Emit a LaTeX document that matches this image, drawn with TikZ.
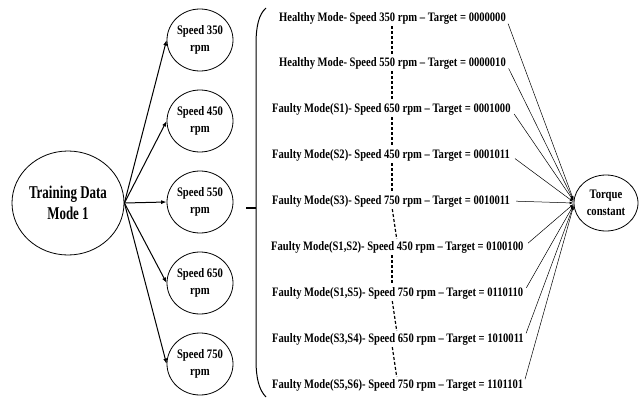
\documentclass[tikz,border=0pt]{standalone}
\usepackage{fontspec}
\setmainfont{Liberation Serif}
\newfontfamily\condfont[FakeStretch=0.82]{Liberation Serif}
\newfontfamily\narrowfont[FakeStretch=0.72]{Liberation Serif}
\usetikzlibrary{arrows.meta,shapes.geometric}
\begin{document}
\begin{tikzpicture}[x=1pt,y=-1pt,
  oval/.style={draw, ellipse, line width=0.8pt, inner sep=0pt, align=center,
    font=\condfont\bfseries\fontsize{13}{17}\selectfont},
  bigoval/.style={oval, font=\narrowfont\bfseries\fontsize{18}{21}\selectfont},
  txt/.style={anchor=west, inner sep=0pt, font=\condfont\bfseries\fontsize{12.9}{14}\selectfont},
  feed/.style={line width=1pt, -{Latex[length=5.5pt,width=4pt]}},
  conv/.style={line width=0.5pt, shorten <=6pt, -{Latex[length=4pt,width=2.5pt]}},
  dashline/.style={line width=1.2pt, dash pattern=on 3pt off 2pt, shorten <=2pt, shorten >=2pt}
]
\useasboundingbox (0,0) rectangle (640,399);
% left part
\node[bigoval, minimum width=112pt, minimum height=104pt] (tr) at (68,203) {Training Data\\Mode 1};
\node[oval, minimum width=66pt, minimum height=62pt] (s1) at (200,40) {Speed 350\\rpm};
\node[oval, minimum width=66pt, minimum height=62pt] (s2) at (200,121) {Speed 450\\rpm};
\node[oval, minimum width=66pt, minimum height=62pt] (s3) at (200,202) {Speed 550\\rpm};
\node[oval, minimum width=66pt, minimum height=62pt] (s4) at (200,283) {Speed 650\\rpm};
\node[oval, minimum width=66pt, minimum height=62pt] (s5) at (200,364) {Speed 750\\rpm};
\foreach \s in {s1,s2,s3,s4,s5} \draw[feed] (tr.east) -- (\s.west);
% bracket
\draw[line width=1pt] (266,8) .. controls (259,14) and (256,26) .. (256,44) -- (256,360)
  .. controls (256,378) and (259,390) .. (266,397);
\draw[line width=1.6pt] (246,208) -- (256,208);
% texts
\node[txt] (t1) at (279,18) {Healthy Mode- Speed 350 rpm – Target = 0000000};
\node[txt] (t2) at (279,63) {Healthy Mode- Speed 550 rpm – Target = 0000010};
\node[txt] (t3) at (272,109) {Faulty Mode(S1)- Speed 650 rpm – Target = 0001000};
\node[txt] (t4) at (272,155) {Faulty Mode(S2)- Speed 450 rpm – Target = 0001011};
\node[txt] (t5) at (272,201) {Faulty Mode(S3)- Speed 750 rpm – Target = 0010011};
\node[txt] (t6) at (271,247) {Faulty Mode(S1,S2)- Speed 450 rpm – Target = 0100100};
\node[txt] (t7) at (272,293) {Faulty Mode(S1,S5)- Speed 750 rpm – Target = 0110110};
\node[txt] (t8) at (272,339) {Faulty Mode(S3,S4)- Speed 650 rpm – Target = 1010011};
\node[txt] (t9) at (272,385) {Faulty Mode(S5,S6)- Speed 750 rpm – Target = 1101101};
% dashed guide
\coordinate (da) at (392,0);
\coordinate (db) at (397,0);
\draw[dashline] (t1.south -| da) -- (t2.north -| da);
\draw[dashline] (t2.south -| da) -- (t3.north -| da);
\draw[dashline] (t3.south -| da) -- (t4.north -| da);
\draw[dashline] (t4.south -| da) -- (t5.north -| da);
\draw[dashline] (t5.south -| da) -- (t6.north -| db);
\draw[dashline] (t6.south -| da) -- (t7.north -| da);
\draw[dashline] (t7.south -| da) -- (t8.north -| db);
\draw[dashline] (t8.south -| da) -- (t9.north -| db);
% torque
\node[oval, minimum width=64pt, minimum height=56pt] (tq) at (606,203) {Torque\\constant};
\draw[conv] (t1.east) -- ([yshift=3pt]tq.west);
\draw[conv] (t2.east) -- ([yshift=2.5pt]tq.west);
\draw[conv] (t3.east) -- ([yshift=2pt]tq.west);
\draw[conv] (t4.east) -- ([yshift=1pt]tq.west);
\draw[conv] (t5.east) -- ([yshift=0pt]tq.west);
\draw[conv] (t6.east) -- ([yshift=-1pt]tq.west);
\draw[conv] (t7.east) -- ([yshift=-2pt]tq.west);
\draw[conv] (t8.east) -- ([yshift=-2.5pt]tq.west);
\draw[conv] (t9.east) -- ([yshift=-3pt]tq.west);
\end{tikzpicture}
\end{document}
